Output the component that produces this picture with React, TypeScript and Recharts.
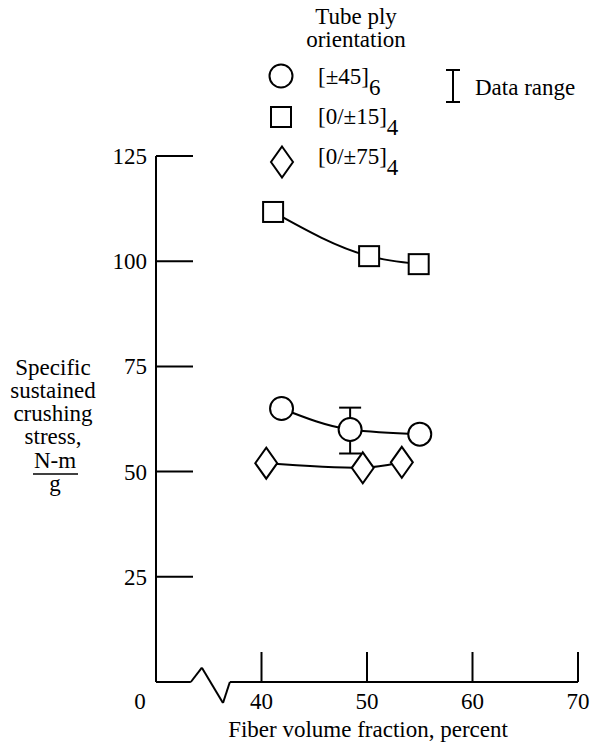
import { ComposedChart, Line, XAxis, YAxis, ReferenceLine, ErrorBar } from "recharts";

// fiber volume fraction (percent) and specific sustained crushing stress (N-m/g)
const ply45X = [41.9, 48.4, 55.0];
const ply45Y = [65.0, 60.0, 58.9];
const ply45Low: (number | null)[] = [null, 54.3, null];
const ply45High: (number | null)[] = [null, 65.2, null];

const ply15X = [41.1, 50.2, 54.9];
const ply15Y = [111.7, 101.2, 99.3];

const ply75X = [40.45, 49.6, 53.3];
const ply75Y = [52.0, 50.9, 52.2];

const xTicks = [30, 40, 50, 60, 70];
const yTicks = [25, 50, 75, 100, 125];

// axis break drawn in the gap between 0 and 40
const breakX = [30, 33.3, 34.35, 36.35, 37.0, 70];
const breakY = [0, 0, 3.4, -5.0, 0, 0];

const FONT = "'Liberation Serif', 'Times New Roman', serif";
const SIZE = 23;

const build = (xs: number[], ys: number[], lo?: (number | null)[], hi?: (number | null)[]) =>
  xs.map((x, i) => ({
    x,
    y: ys[i],
    err: lo && hi && lo[i] != null && hi[i] != null ? [ys[i] - (lo[i] as number), (hi[i] as number) - ys[i]] : undefined,
  }));

const data45 = build(ply45X, ply45Y, ply45Low, ply45High);
const data15 = build(ply15X, ply15Y);
const data75 = build(ply75X, ply75Y);

type Shape = "circle" | "square" | "diamond";

function Marker({ shape, cx, cy }: { shape: Shape; cx: number; cy: number }) {
  const common = { fill: "#fff", stroke: "#000", strokeWidth: 2 };
  if (shape === "circle") return <circle cx={cx} cy={cy} r={11.5} {...common} />;
  if (shape === "square") return <rect x={cx - 10} y={cy - 10} width={20} height={20} {...common} />;
  return <polygon points={`${cx},${cy - 15.5} ${cx + 11},${cy} ${cx},${cy + 15.5} ${cx - 11},${cy}`} {...common} />;
}

const dotOf = (shape: Shape) => (p: any) => <Marker key={p.index} shape={shape} cx={p.cx} cy={p.cy} />;

function XTick({ x, y, payload }: any) {
  if (payload.value === 30) {
    return (
      <text x={x - 16} y={y + 27} textAnchor="middle" fontFamily={FONT} fontSize={SIZE} fill="#000">
        0
      </text>
    );
  }
  return (
    <g>
      <line x1={x} y1={y} x2={x} y2={y - 30} stroke="#000" strokeWidth={2} />
      <text x={x} y={y + 27} textAnchor="middle" fontFamily={FONT} fontSize={SIZE} fill="#000">
        {payload.value}
      </text>
    </g>
  );
}

function YTick({ x, y, payload }: any) {
  return (
    <g>
      <line x1={x} y1={y} x2={x + 37} y2={y} stroke="#000" strokeWidth={2} />
      <text x={x - 9} y={y + 8} textAnchor="end" fontFamily={FONT} fontSize={SIZE} fill="#000">
        {payload.value}
      </text>
    </g>
  );
}

const yLabel = ["Specific", "sustained", "crushing", "stress,"];

export default function App() {
  const txt = { fontFamily: FONT, fontSize: SIZE, fill: "#000" };
  return (
    <div style={{ position: "absolute", left: 0, top: 0, width: 592, height: 746, background: "#fff" }}>
      <ComposedChart width={592} height={746} margin={{ top: 156, right: 14, bottom: 63, left: 155 }}>
        <XAxis
          type="number"
          dataKey="x"
          domain={[30, 70]}
          ticks={xTicks}
          height={1}
          axisLine={false}
          tickLine={false}
          tickSize={0}
          tickMargin={0}
          tick={<XTick />}
          allowDataOverflow
        />
        <YAxis
          type="number"
          domain={[0, 125]}
          ticks={yTicks}
          width={1}
          axisLine={{ stroke: "#000", strokeWidth: 2 }}
          tickLine={false}
          tickSize={0}
          tickMargin={0}
          tick={<YTick />}
          allowDataOverflow
        />
        {breakX.slice(1).map((bx, i) => (
          <ReferenceLine
            key={i}
            segment={[
              { x: breakX[i], y: breakY[i] },
              { x: bx, y: breakY[i + 1] },
            ]}
            stroke="#000"
            strokeWidth={2}
            ifOverflow="visible"
          />
        ))}
        <Line data={data15} dataKey="y" type="monotone" stroke="#000" strokeWidth={2} dot={dotOf("square")} activeDot={false} isAnimationActive={false} />
        <Line data={data45} dataKey="y" type="monotone" stroke="#000" strokeWidth={2} dot={dotOf("circle")} activeDot={false} isAnimationActive={false}>
          <ErrorBar dataKey="err" direction="y" width={11} stroke="#000" strokeWidth={2} isAnimationActive={false} />
        </Line>
        <Line data={data75} dataKey="y" type="monotone" stroke="#000" strokeWidth={2} dot={dotOf("diamond")} activeDot={false} isAnimationActive={false} />
      </ComposedChart>

      <svg width={592} height={746} style={{ position: "absolute", left: 0, top: 0, pointerEvents: "none" }}>
        <text x={356} y={24} textAnchor="middle" {...txt}>Tube ply</text>
        <text x={356} y={47} textAnchor="middle" {...txt}>orientation</text>

        <Marker shape="circle" cx={281} cy={76} />
        <text x={318} y={84} {...txt}>
          [±45]<tspan dy={11}>6</tspan>
        </text>
        <Marker shape="square" cx={281} cy={117} />
        <text x={318} y={124} {...txt}>
          [0/±15]<tspan dy={11}>4</tspan>
        </text>
        <Marker shape="diamond" cx={282} cy={162} />
        <text x={318} y={164} {...txt}>
          [0/±75]<tspan dy={11}>4</tspan>
        </text>

        <g stroke="#000" strokeWidth={2}>
          <line x1={453} y1={70} x2={453} y2={102} />
          <line x1={446} y1={70} x2={460} y2={70} />
          <line x1={446} y1={102} x2={460} y2={102} />
        </g>
        <text x={475} y={95} {...txt}>Data range</text>

        {yLabel.map((s, i) => (
          <text key={s} x={53} y={375 + i * 23} textAnchor="middle" {...txt}>{s}</text>
        ))}
        <text x={55} y={468} textAnchor="middle" {...txt}>N-m</text>
        <line x1={33} y1={474} x2={78} y2={474} stroke="#000" strokeWidth={1.5} />
        <text x={55} y={491} textAnchor="middle" {...txt}>g</text>

        <text x={368} y={737} textAnchor="middle" {...txt}>Fiber volume fraction, percent</text>
      </svg>
    </div>
  );
}
